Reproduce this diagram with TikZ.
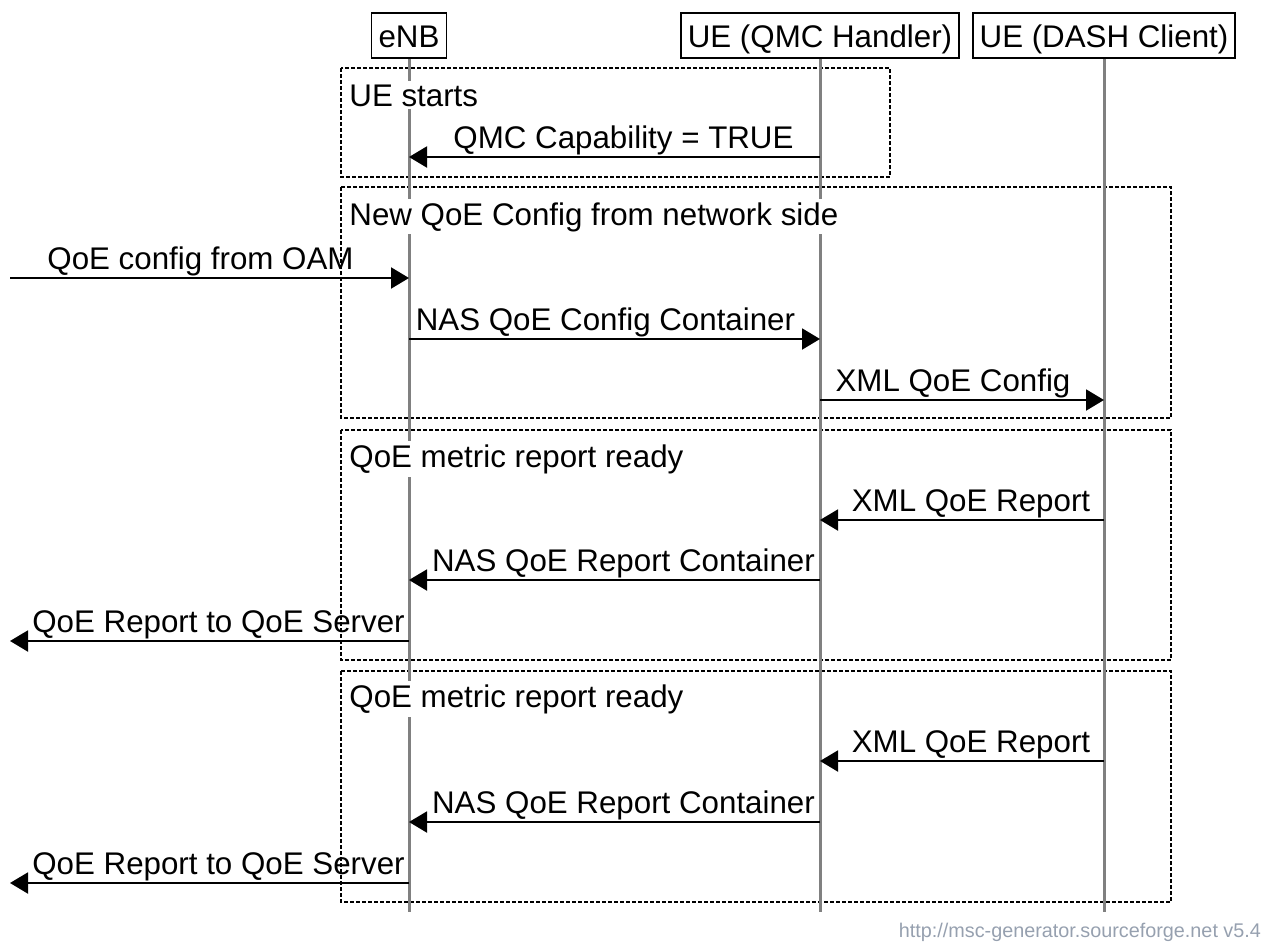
\documentclass[tikz,border=0pt]{standalone}
\usepackage{fontspec}
\setmainfont{Liberation Sans}
\usetikzlibrary{arrows.meta, positioning, calc}
\definecolor{lifegray}{RGB}{128,128,128}
\definecolor{footgray}{RGB}{150,160,175}

\begin{document}
\begin{tikzpicture}[
    x=0.5pt, y=-0.5pt,
    font=\fontsize{15.65pt}{18pt}\selectfont,
    actor/.style={rectangle, draw=black, line width=0.9pt, fill=white, minimum height=22.5pt, inner xsep=3.5pt, inner ysep=0pt, text height=14pt, text depth=1.8pt},
    lifeline/.style={draw=lifegray, line width=1.5pt},
    grp/.style={draw=black, line width=0.75pt, dash pattern=on 2pt off 1pt},
    grplabel/.style={anchor=base west, fill=white, inner sep=1.5pt},
    msg/.style={draw=black, line width=1pt, -{Triangle[length=9pt, width=10.5pt]}},
    lblr/.style={anchor=base, xshift=-4.5pt, yshift=4.5pt, inner sep=0pt},
    lbll/.style={anchor=base, xshift=4.5pt, yshift=4.5pt, inner sep=0pt}
]
\useasboundingbox (0,0) rectangle (1273,942);

% entities
\node[actor] (enb) at (409,35.5) {eNB};
\node[actor] (qmc) at (820,35.5) {UE (QMC Handler)};
\node[actor] (dash) at (1104,35.5) {UE (DASH Client)};

% group frames
\draw[grp] (341,68) rectangle (890,177);
\draw[grp] (341,187) rectangle (1171,418);
\draw[grp] (341,430) rectangle (1171,660);
\draw[grp] (341,671) rectangle (1171,902);

% lifelines
\coordinate (bottom) at (0,912);
\draw[lifeline] (enb.south) -- (enb |- bottom);
\draw[lifeline] (qmc.south) -- (qmc |- bottom);
\draw[lifeline] (dash.south) -- (dash |- bottom);

% group titles
\node[grplabel] (g1) at (346,106) {UE starts};
\node[grplabel] (g2) at (346,225) {New QoE Config from network side};
\node[grplabel] (g3) at (346,467) {QoE metric report ready};
\node[grplabel] (g4) at (346,707) {QoE metric report ready};

% message rows
\coordinate (m1) at (0,157);
\coordinate (oam) at (10,278);
\coordinate (m3) at (0,339);
\coordinate (m4) at (0,400);
\coordinate (m5) at (0,520);
\coordinate (m6) at (0,580);
\coordinate (srv1) at (10,641);
\coordinate (m8) at (0,761);
\coordinate (m9) at (0,822);
\coordinate (srv2) at (10,883);

\draw[msg] (qmc |- m1) -- node[lbll] {QMC Capability = TRUE} (enb |- m1);
\draw[msg] (oam) -- node[lblr] {QoE config from OAM} (enb |- oam);
\draw[msg] (enb |- m3) -- node[lblr] {NAS QoE Config Container} (qmc |- m3);
\draw[msg] (qmc |- m4) -- node[lblr] {XML QoE Config} (dash |- m4);
\draw[msg] (dash |- m5) -- node[lbll] {XML QoE Report} (qmc |- m5);
\draw[msg] (qmc |- m6) -- node[lbll] {NAS QoE Report Container} (enb |- m6);
\draw[msg] (enb |- srv1) -- node[lbll] {QoE Report to QoE Server} (srv1);
\draw[msg] (dash |- m8) -- node[lbll] {XML QoE Report} (qmc |- m8);
\draw[msg] (qmc |- m9) -- node[lbll] {NAS QoE Report Container} (enb |- m9);
\draw[msg] (enb |- srv2) -- node[lbll] {QoE Report to QoE Server} (srv2);

\node[anchor=base east, text=footgray, font=\fontsize{9.9pt}{12pt}\selectfont] (footer) at (1268,937) {http://msc-generator.sourceforge.net v5.4};
\end{tikzpicture}
\end{document}
